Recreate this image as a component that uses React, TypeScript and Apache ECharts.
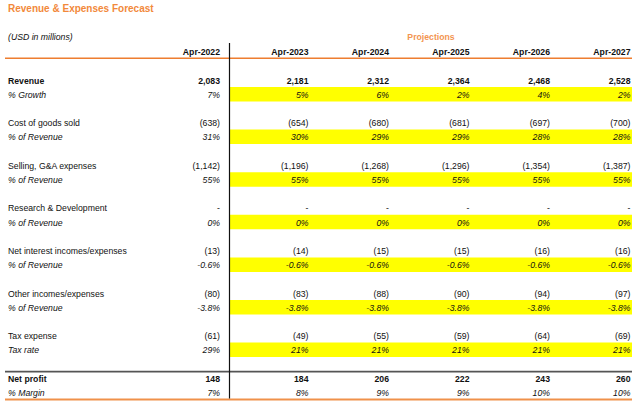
import React, { useEffect, useRef } from "react";
import * as echarts from "echarts";

const title = "Revenue & Expenses Forecast";
const unitLabel = "(USD in millions)";
const projectionsLabel = "Projections";
const years = ["Apr-2022", "Apr-2023", "Apr-2024", "Apr-2025", "Apr-2026", "Apr-2027"];

const revenue = [2083, 2181, 2312, 2364, 2468, 2528];
const growthPct = [7, 5, 6, 2, 4, 2];
const cogs = [-638, -654, -680, -681, -697, -700];
const cogsPct = [31, 30, 29, 29, 28, 28];
const sga = [-1142, -1196, -1268, -1296, -1354, -1387];
const sgaPct = [55, 55, 55, 55, 55, 55];
const rnd = [0, 0, 0, 0, 0, 0];
const rndPct = [0, 0, 0, 0, 0, 0];
const interest = [-13, -14, -15, -15, -16, -16];
const interestPct = [-0.6, -0.6, -0.6, -0.6, -0.6, -0.6];
const other = [-80, -83, -88, -90, -94, -97];
const otherPct = [-3.8, -3.8, -3.8, -3.8, -3.8, -3.8];
const tax = [-61, -49, -55, -59, -64, -69];
const taxRate = [29, 21, 21, 21, 21, 21];
const netProfit = [148, 184, 206, 222, 243, 260];
const marginPct = [7, 8, 9, 9, 10, 10];

type Group = {
  label: string;
  values: number[];
  pctLabel: string;
  pct: number[];
  pctDecimals: number;
  bold?: boolean;
  highlight: boolean;
};

const groups: Group[] = [
  { label: "Revenue", values: revenue, pctLabel: "% Growth", pct: growthPct, pctDecimals: 0, bold: true, highlight: true },
  { label: "Cost of goods sold", values: cogs, pctLabel: "% of Revenue", pct: cogsPct, pctDecimals: 0, highlight: true },
  { label: "Selling, G&A expenses", values: sga, pctLabel: "% of Revenue", pct: sgaPct, pctDecimals: 0, highlight: true },
  { label: "Research & Development", values: rnd, pctLabel: "% of Revenue", pct: rndPct, pctDecimals: 0, highlight: true },
  { label: "Net interest incomes/expenses", values: interest, pctLabel: "% of Revenue", pct: interestPct, pctDecimals: 1, highlight: true },
  { label: "Other incomes/expenses", values: other, pctLabel: "% of Revenue", pct: otherPct, pctDecimals: 1, highlight: true },
  { label: "Tax expense", values: tax, pctLabel: "Tax rate", pct: taxRate, pctDecimals: 0, highlight: true },
  { label: "Net profit", values: netProfit, pctLabel: "% Margin", pct: marginPct, pctDecimals: 0, bold: true, highlight: false },
];

function fmtNum(v: number): string {
  if (v === 0) return "-";
  const s = Math.abs(v).toLocaleString("en-US");
  return v < 0 ? `(${s})` : s;
}
function fmtPct(v: number, d: number): string {
  return `${v.toFixed(d)}%`;
}

const FONT = "'Liberation Sans', Arial, sans-serif";
const ORANGE = "#EE7D2F";
const TITLE_ORANGE = "#F2893B";
const PROJ_ORANGE = "#F39550";
const TEXT = "#111111";

export default function App() {
  const ref = useRef<HTMLDivElement>(null);
  useEffect(() => {
    if (!ref.current) return;
    const chart = echarts.init(ref.current, undefined, { renderer: "svg" });
    const colRight = (i: number) => (i === 0 ? 220 : 308.5 + (i - 1) * 80.5);
    const divX = 229.5;
    const els: any[] = [];

    const txt = (x: number, y: number, text: string, opts: any = {}) => ({
      type: "text",
      x,
      y,
      style: {
        text,
        fontFamily: FONT,
        fontSize: 8.7,
        fill: TEXT,
        align: "left",
        verticalAlign: "middle",
        ...opts,
      },
    });

    const groupY = (g: number) => 80.5 + g * 42.6;
    groups.forEach((g, gi) => {
      if (!g.highlight) return;
      const y = groupY(gi) + 14;
      els.push({
        type: "rect",
        shape: { x: divX + 0.5, y: y - 7.5, width: 632 - divX - 0.5, height: 14.5 },
        style: { fill: "#FFFF00" },
      });
    });

    els.push(txt(8, 8.5, title, { fontSize: 10, fontWeight: "bold", fill: TITLE_ORANGE }));
    els.push(txt(8, 36.5, unitLabel, { fontStyle: "italic" }));
    els.push(txt(431, 36.5, projectionsLabel, { fontWeight: "bold", fill: PROJ_ORANGE, align: "center" }));
    years.forEach((yr, i) => {
      els.push(txt(colRight(i), 51.5, yr, { fontWeight: "bold", align: "right" }));
    });

    els.push({ type: "line", shape: { x1: 5, y1: 58.3, x2: 632, y2: 58.3 }, style: { stroke: ORANGE, lineWidth: 1.6 } });
    els.push({ type: "line", shape: { x1: 5, y1: 371.7, x2: 632, y2: 371.7 }, style: { stroke: "#555555", lineWidth: 1.8 } });
    els.push({ type: "line", shape: { x1: 5, y1: 399.5, x2: 632, y2: 399.5 }, style: { stroke: "#F0914A", lineWidth: 2 } });
    els.push({ type: "line", shape: { x1: divX, y1: 43, x2: divX, y2: 398.5 }, style: { stroke: "#111111", lineWidth: 1.2 } });

    groups.forEach((g, gi) => {
      const y = groupY(gi);
      const yp = y + 14.3;
      const weight = g.bold ? "bold" : "normal";
      els.push(txt(8, y, g.label, { fontWeight: weight }));
      els.push(txt(8, yp, g.pctLabel, { fontStyle: "italic" }));
      g.values.forEach((v, i) => {
        els.push(txt(colRight(i), y, fmtNum(v), { fontWeight: weight, align: "right" }));
      });
      g.pct.forEach((v, i) => {
        els.push(txt(colRight(i), yp, fmtPct(v, g.pctDecimals), { fontStyle: "italic", align: "right" }));
      });
    });

    chart.setOption({
      animation: false,
      backgroundColor: "#ffffff",
      graphic: { elements: els },
    });
    return () => chart.dispose();
  }, []);
  return (
    <div
      ref={ref}
      style={{ position: "fixed", left: 0, top: 0, width: 640, height: 407 }}
    />
  );
}
